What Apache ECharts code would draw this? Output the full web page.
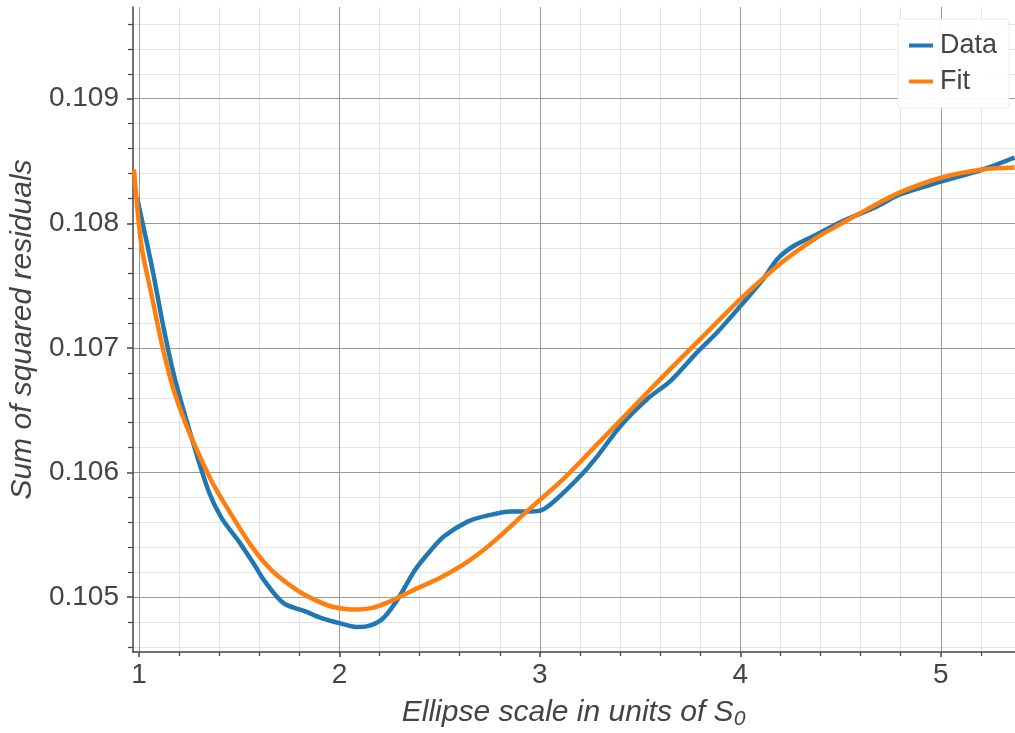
<!DOCTYPE html>
<html>
<head>
<meta charset="utf-8">
<script src="https://cdn.jsdelivr.net/npm/echarts@6/dist/echarts.min.js"></script>
<style>html,body{margin:0;padding:0;background:#fff;}#c{width:1015px;height:733px;}</style>
</head>
<body>
<div id="c"></div>
<script>
// Data
const dataX = [0.990,1.065,1.124,1.179,1.264,1.348,1.413,1.498,1.577,1.627,1.721,1.826,1.910,2.000,2.095,2.159,2.219,2.294,2.373,2.443,2.522,2.642,2.741,2.856,2.955,3.005,3.070,3.204,3.289,3.403,3.537,3.652,3.786,3.886,4.000,4.114,4.184,4.264,4.383,4.498,4.682,4.796,5.005,5.209,5.368];
const dataY = [0.108208,0.107648,0.107152,0.106752,0.106272,0.105848,0.105632,0.105448,0.105256,0.105128,0.104952,0.104888,0.104832,0.104792,0.104760,0.104776,0.104832,0.104992,0.105208,0.105352,0.105488,0.105608,0.105656,0.105688,0.105688,0.105696,0.105768,0.105976,0.106136,0.106376,0.106592,0.106736,0.106968,0.107128,0.107336,0.107552,0.107712,0.107816,0.107912,0.108008,0.108136,0.108232,0.108336,0.108432,0.108528];
const fitX = [0.975,0.995,1.015,1.065,1.114,1.164,1.214,1.264,1.363,1.463,1.562,1.662,1.796,1.880,1.960,2.040,2.100,2.170,2.244,2.358,2.507,2.642,2.771,2.940,3.119,3.289,3.453,3.617,3.786,4.000,4.214,4.383,4.498,4.632,4.796,5.005,5.209,5.368];
const fitY = [0.108432,0.108072,0.107792,0.107408,0.107032,0.106712,0.106472,0.106272,0.105928,0.105656,0.105408,0.105216,0.105048,0.104976,0.104925,0.104904,0.104902,0.104916,0.104960,0.105048,0.105160,0.105288,0.105448,0.105696,0.105952,0.106232,0.106504,0.106776,0.107048,0.107392,0.107696,0.107888,0.107992,0.108112,0.108248,0.108368,0.108432,0.108448];
const seriesNames = ['Data', 'Fit'];
const xMajorTicks = [1, 2, 3, 4, 5];
const xMinorTicks = [1.2,1.4,1.6,1.8,2.2,2.4,2.6,2.8,3.2,3.4,3.6,3.8,4.2,4.4,4.6,4.8,5.2];
const yMajorTicks = [0.105, 0.106, 0.107, 0.108, 0.109];
const yMinorTicks = [0.1046,0.1048,0.1052,0.1054,0.1056,0.1058,0.1062,0.1064,0.1066,0.1068,0.1072,0.1074,0.1076,0.1078,0.1082,0.1084,0.1086,0.1088,0.1092,0.1094,0.1096];
const xRange = [0.97, 5.37];
const yRange = [0.10456, 0.109736];
const xTitle = 'Ellipse scale in units of S\u2080';
const yTitle = 'Sum of squared residuals';

const FONT = '"Liberation Sans", Arial, sans-serif';
const zip = (xs, ys) => xs.map((x, i) => [x, ys[i]]);

const chart = echarts.init(document.getElementById('c'), null, {renderer: 'canvas'});
chart.setOption({
  animation: false,
  backgroundColor: '#fff',
  grid: {left: 131, right: 0, top: 7, bottom: 79, containLabel: false},
  legend: {
    data: seriesNames,
    orient: 'vertical',
    right: 6, top: 19,
    icon: 'rect', itemWidth: 24, itemHeight: 4, itemGap: 9,
    padding: [13, 12, 13, 11],
    backgroundColor: 'rgba(255,255,255,0.92)',
    borderColor: '#ececec', borderWidth: 1, borderRadius: 3,
    textStyle: {fontSize: 27, color: '#444', fontFamily: FONT, padding: [0, 0, 0, 2]}
  },
  xAxis: [
    {
      type: 'value', min: xRange[0], max: xRange[1], position: 'bottom', z: 1,
      axisLine: {show: true, onZero: false, lineStyle: {color: '#444', width: 1.5}},
      axisTick: {show: true, customValues: xMajorTicks, length: 5, lineStyle: {color: '#444', width: 1.5}},
      axisLabel: {show: true, customValues: xMajorTicks, fontSize: 28, color: '#444', fontFamily: FONT, margin: 9},
      splitLine: {show: true, lineStyle: {color: '#999', width: 1}},
      name: xTitle, nameLocation: 'middle', nameGap: 46,
      nameTextStyle: {fontSize: 30, fontStyle: 'italic', color: '#444', fontFamily: FONT}
    },
    {
      type: 'value', min: xRange[0], max: xRange[1], position: 'bottom', z: 0,
      axisLine: {show: false},
      axisTick: {show: true, customValues: xMinorTicks, length: 4, lineStyle: {color: '#444', width: 1.2}},
      axisLabel: {show: false},
      splitLine: {show: true, lineStyle: {color: '#e4e4e4', width: 1}}
    }
  ],
  yAxis: [
    {
      type: 'value', min: yRange[0], max: yRange[1], position: 'left', z: 1,
      axisLine: {show: true, onZero: false, lineStyle: {color: '#444', width: 1.5}},
      axisTick: {show: true, customValues: yMajorTicks, length: 6, lineStyle: {color: '#444', width: 1.5}},
      axisLabel: {show: true, customValues: yMajorTicks, fontSize: 28, color: '#444', fontFamily: FONT, margin: 14,
        formatter: v => Number(v).toFixed(3)},
      splitLine: {show: true, lineStyle: {color: '#999', width: 1}},
      name: yTitle, nameLocation: 'middle', nameGap: 94, nameRotate: 90,
      nameTextStyle: {fontSize: 30, fontStyle: 'italic', color: '#444', fontFamily: FONT}
    },
    {
      type: 'value', min: yRange[0], max: yRange[1], position: 'left', z: 0,
      axisLine: {show: false},
      axisTick: {show: true, customValues: yMinorTicks, length: 5, lineStyle: {color: '#444', width: 1.2}},
      axisLabel: {show: false},
      splitLine: {show: true, lineStyle: {color: '#e4e4e4', width: 1}}
    }
  ],
  series: [
    {
      name: seriesNames[0], type: 'line', xAxisIndex: 0, yAxisIndex: 0,
      data: zip(dataX, dataY), smooth: 0.3, showSymbol: false, symbol: 'none',
      lineStyle: {color: '#1f77b4', width: 4.5}, itemStyle: {color: '#1f77b4'}, z: 3
    },
    {
      name: seriesNames[1], type: 'line', xAxisIndex: 0, yAxisIndex: 0,
      data: zip(fitX, fitY), smooth: 0.3, showSymbol: false, symbol: 'none',
      lineStyle: {color: '#ff7f0e', width: 4.5}, itemStyle: {color: '#ff7f0e'}, z: 4
    }
  ]
});
</script>
</body>
</html>
